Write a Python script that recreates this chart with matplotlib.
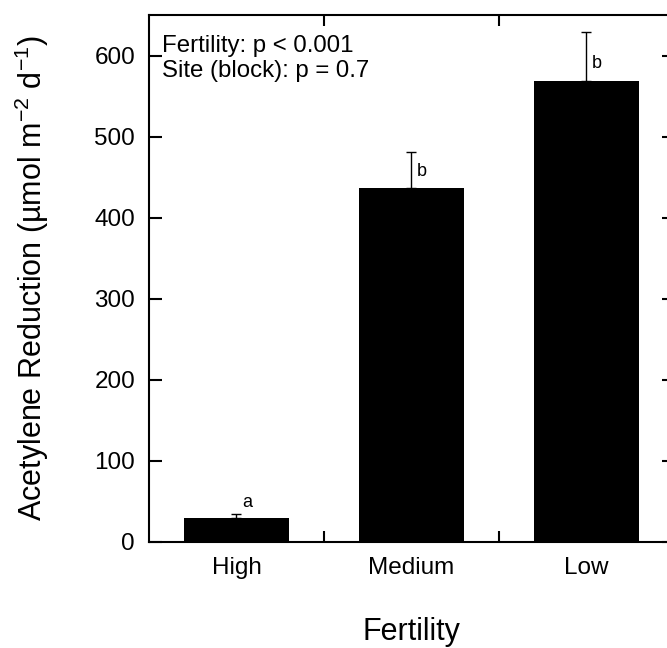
import numpy as np
import matplotlib
matplotlib.use("Agg")
import matplotlib.pyplot as plt
from matplotlib.ticker import FixedLocator

plt.rcParams['font.family'] = ['Liberation Sans', 'DejaVu Sans']
plt.rcParams['mathtext.fontset'] = 'custom'
plt.rcParams['mathtext.rm'] = 'Liberation Sans'
plt.rcParams['mathtext.default'] = 'regular'

# data
categories = ['High', 'Medium', 'Low']
means = [29, 437, 569]
errs_up = [5, 44, 60]
letters = ['a', 'b', 'b']
letter_y = [49, 457, 590]
stats_text = 'Fertility: p < 0.001\nSite (block): p = 0.7'

fig = plt.figure(figsize=(6.67, 6.48), dpi=100)
ax = fig.add_axes([0.2234, 0.164, 0.787, 0.8128])

x = np.arange(len(categories))
ax.bar(x, means, width=0.6, color='black')
ax.errorbar(x, means, yerr=[np.zeros(len(means)), errs_up], fmt='none',
            ecolor='black', elinewidth=1, capsize=3.5, capthick=1)

for xi, lab, ly in zip(x, letters, letter_y):
    ax.text(xi + 0.06, ly, lab, fontsize=13, ha='center', va='center')

ax.text(0.025, 0.962, stats_text, transform=ax.transAxes, fontsize=17.3,
        ha='left', va='top', linespacing=1.15)

ax.set_xlim(-0.5, 2.5)
ax.set_ylim(0, 650)

# category labels at bar centres, ticks at the boundaries
ax.xaxis.set_major_locator(FixedLocator(x))
ax.set_xticklabels(categories)
ax.xaxis.set_minor_locator(FixedLocator([0.5, 1.5]))
ax.tick_params(axis='x', which='major', length=0, pad=11, labelsize=17.5)
ax.tick_params(axis='x', which='minor', direction='in', length=8, width=1.5,
               top=True, bottom=True)

ax.set_yticks([0, 100, 200, 300, 400, 500, 600])
ax.tick_params(axis='y', direction='in', length=9, width=1.5, right=True,
               pad=10, labelsize=17.5)

for s in ax.spines.values():
    s.set_linewidth(1.5)

ax.set_xlabel('Fertility', fontsize=22, va='baseline')
ax.xaxis.set_label_coords(0.5, -0.1866)
ax.set_ylabel('Acetylene Reduction (µmol m$^{-2}$ d$^{-1}$)', fontsize=22)
ax.yaxis.set_label_coords(-0.187, 0.5)

fig.savefig('out.png', dpi=100)
